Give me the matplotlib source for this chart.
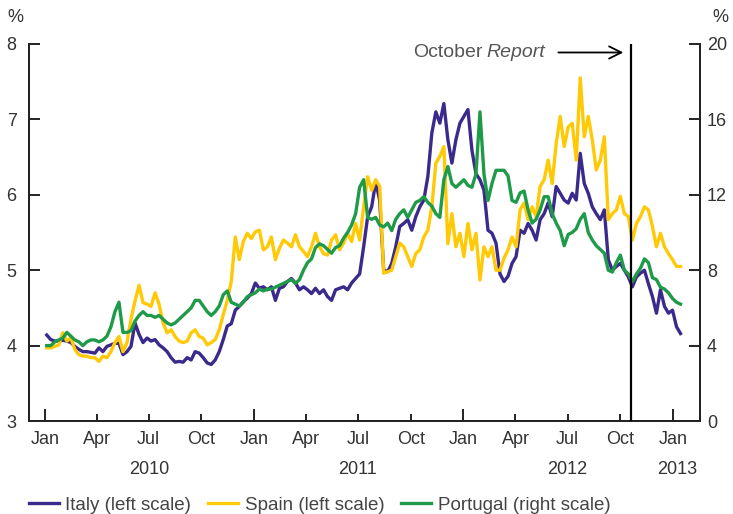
import numpy as np
import pandas as pd
import matplotlib
matplotlib.use('Agg')
from matplotlib import pyplot as plt
import matplotlib.dates as mdates
from matplotlib.transforms import blended_transform_factory

plt.rcParams['font.family'] = ['Liberation Sans', 'DejaVu Sans']
plt.rcParams['font.size'] = 13

# weekly readings, first week of Jan 2010 to mid Jan 2013
start_date = '2010-01-04'

italy = [4.14, 4.08, 4.06, 4.06, 4.07, 4.06, 4.04, 3.99, 3.95, 3.92,
         3.92, 3.91, 3.90, 3.97, 3.92, 3.99, 4.01, 4.03, 4.03, 3.88,
         3.92, 3.99, 4.30, 4.15, 4.04, 4.10, 4.06, 4.08, 4.01, 3.97,
         3.92, 3.84, 3.78, 3.79, 3.78, 3.84, 3.81, 3.92, 3.90, 3.84,
         3.77, 3.75, 3.81, 3.92, 4.08, 4.26,
         4.29, 4.47, 4.52, 4.58, 4.63, 4.69, 4.83, 4.76, 4.78, 4.74,
         4.78, 4.60, 4.76, 4.78, 4.85, 4.89, 4.83, 4.74, 4.78, 4.74,
         4.69, 4.76, 4.69, 4.74, 4.65, 4.60, 4.74, 4.76, 4.78, 4.74,
         4.83, 4.89, 4.95, 5.31, 5.71, 5.84, 6.17, 5.93,
         5.00, 4.98, 5.09, 5.31, 5.58, 5.62, 5.67, 5.53, 5.71, 5.84,
         5.93, 6.24, 6.82, 7.10, 6.95, 7.21, 6.73, 6.42, 6.73, 6.95,
         7.04, 7.13, 6.59, 6.28, 6.20, 6.06, 5.53, 5.49, 5.36,
         4.95, 4.85, 4.92, 5.09, 5.18, 5.53, 5.49, 5.62, 5.53, 5.40,
         5.67, 5.75, 5.89, 5.71, 6.11, 6.02, 5.93, 5.89, 6.02, 5.93,
         6.55, 6.15, 6.02, 5.84, 5.75, 5.67, 5.80, 5.14, 5.00, 5.05,
         5.09, 5.00, 4.91, 4.78, 4.91, 4.96, 5.00, 4.82, 4.65, 4.43,
         4.74, 4.52, 4.43, 4.47, 4.25, 4.16]

spain = [3.97, 3.97, 3.99, 4.01, 4.17, 4.06, 4.10, 3.95, 3.88, 3.86,
         3.86, 3.84, 3.84, 3.79, 3.86, 3.84, 3.92, 4.04, 4.12, 3.92,
         4.04, 4.35, 4.59, 4.80, 4.57, 4.55, 4.52, 4.70, 4.55, 4.30,
         4.17, 4.21, 4.12, 4.06, 4.04, 4.06, 4.17, 4.21, 4.12, 4.10,
         4.01, 4.04, 4.08, 4.21, 4.41, 4.60,
         4.85, 5.44, 5.14, 5.38, 5.49, 5.42, 5.51, 5.53, 5.27, 5.31,
         5.44, 5.14, 5.29, 5.40, 5.36, 5.31, 5.47, 5.31, 5.25, 5.18,
         5.31, 5.49, 5.31, 5.22, 5.20, 5.40, 5.47, 5.27, 5.36, 5.49,
         5.38, 5.62, 5.40, 5.84, 6.24, 6.06, 6.20, 6.11,
         4.96, 4.98, 5.00, 5.18, 5.36, 5.31, 5.18, 5.05, 5.22, 5.27,
         5.44, 5.53, 5.84, 6.42, 6.51, 6.64, 5.35, 5.75, 5.31, 5.49,
         5.18, 5.62, 5.27, 5.49, 4.87, 5.31, 5.18, 5.31, 5.00,
         5.00, 5.16, 5.27, 5.44, 5.31, 5.80, 5.89, 5.67, 5.84, 5.71,
         6.11, 6.20, 6.46, 6.15, 6.68, 7.04, 6.64, 6.90, 6.95, 6.46,
         7.55, 6.77, 7.04, 6.73, 6.33, 6.46, 6.77, 5.67, 5.75, 5.80,
         5.98, 5.75, 5.71, 5.40, 5.62, 5.71, 5.84, 5.80, 5.58, 5.31,
         5.49, 5.31, 5.22, 5.14, 5.05, 5.05]

# right scale
portugal = [4.0, 4.0, 4.2, 4.3, 4.4, 4.7, 4.5, 4.3, 4.2, 4.0,
            4.2, 4.3, 4.3, 4.2, 4.3, 4.5, 5.0, 5.8, 6.3, 4.7,
            4.7, 4.8, 5.3, 5.6, 5.8, 5.6, 5.6, 5.5, 5.6, 5.4,
            5.2, 5.1, 5.2, 5.4, 5.6, 5.8, 6.0, 6.4, 6.4, 6.1,
            5.8, 5.6, 5.8, 6.1, 6.7, 6.9,
            6.3, 6.2, 6.1, 6.3, 6.6, 6.7, 6.8, 7.0, 6.9, 7.0,
            7.0, 7.1, 7.2, 7.3, 7.4, 7.5, 7.3, 7.5, 8.0, 8.4,
            8.6, 9.2, 9.4, 9.3, 9.1, 8.9, 9.2, 9.3, 9.7, 10.0,
            10.4, 11.0, 12.4, 12.8, 10.8, 10.7, 10.8, 10.4,
            10.3, 10.5, 10.1, 10.7, 11.0, 11.2, 10.8, 11.2, 11.6, 11.7,
            11.9, 11.6, 11.4, 11.0, 10.8, 12.8, 13.5, 12.6, 12.4, 12.6,
            12.8, 12.5, 12.4, 13.1, 16.4, 13.1, 11.7, 12.6, 13.3,
            13.3, 13.3, 13.0, 11.7, 11.6, 12.1, 12.2, 11.2, 10.5, 10.7,
            11.2, 11.9, 11.9, 11.0, 10.5, 10.1, 9.3, 9.9, 10.0, 10.2,
            10.7, 11.0, 10.0, 9.6, 9.3, 9.1, 8.9, 8.0, 7.9, 8.4,
            8.8, 8.0, 7.8, 7.4, 7.8, 8.1, 8.6, 8.4, 7.6, 7.5,
            7.1, 7.0, 6.8, 6.5, 6.3, 6.2]

years = ['2010', '2011', '2012', '2013']
year_label_dates = ['2010-07-01', '2011-07-01', '2012-07-01', '2013-01-08']
report_date = '2012-10-19'

dates = pd.date_range(start_date, periods=len(italy), freq='7D')

col_italy = '#3b2a8c'
col_spain = '#ffc905'
col_portugal = '#1f9a48'
text_col = '#333333'

fig = plt.figure(figsize=(7.33, 5.14), dpi=100)
ax = fig.add_axes([29/733, 93/514, 671/733, 377/514])
ax2 = ax.twinx()

ax.plot(dates, italy, color=col_italy, lw=2.4, label='Italy (left scale)')
ax.plot(dates, spain, color=col_spain, lw=2.4, label='Spain (left scale)')
ax2.plot(dates, portugal, color=col_portugal, lw=2.4, label='Portugal (right scale)')

ax2.axvline(pd.Timestamp(report_date), color='black', lw=1.6, zorder=5)
ax2.annotate('', xy=(pd.Timestamp(report_date) - pd.Timedelta(days=8), 19.55),
             xytext=(pd.Timestamp('2012-06-10'), 19.55),
             arrowprops=dict(arrowstyle='->', color='black', lw=1.3,
                             mutation_scale=22))
# "October" regular, "Report" italic
ax2.text(pd.Timestamp('2012-05-22'), 19.55, 'Report', style='italic',
         ha='right', va='center', color='#555555', fontsize=14)
ax2.annotate('October', xy=(pd.Timestamp('2012-05-22'), 19.55),
             xytext=(-45, 0), textcoords='offset points',
             ha='right', va='center', color='#555555', fontsize=14)

ax.set_xlim(pd.Timestamp('2009-12-04'), pd.Timestamp('2013-02-17'))
ax.set_ylim(3, 8)
ax2.set_ylim(0, 20)
ax.set_yticks([3, 4, 5, 6, 7, 8])
ax2.set_yticks([0, 4, 8, 12, 16, 20])

for a in (ax, ax2):
    a.spines['top'].set_visible(False)
    for s in ('left', 'right', 'bottom'):
        a.spines[s].set_linewidth(1.4)
        a.spines[s].set_color('#222222')

ax.xaxis.set_major_locator(mdates.MonthLocator(bymonth=[1]))
ax.xaxis.set_major_formatter(mdates.DateFormatter('%b'))
ax.xaxis.set_minor_locator(mdates.MonthLocator(bymonth=[4, 7, 10]))
ax.xaxis.set_minor_formatter(mdates.DateFormatter('%b'))
ax.tick_params(axis='x', which='major', direction='in', length=8.5, width=1.4,
               pad=7, labelsize=13, labelcolor=text_col, color='#222222')
ax.tick_params(axis='x', which='minor', direction='in', length=5, width=1.4,
               pad=7, labelsize=13, labelcolor=text_col, color='#222222')
ax.tick_params(axis='y', direction='in', length=8, width=1.4, pad=9,
               labelsize=13, labelcolor=text_col, color='#222222')
ax2.tick_params(axis='y', direction='in', length=8, width=1.4, pad=5,
                labelsize=13, labelcolor=text_col, color='#222222')

trans = blended_transform_factory(ax.transData, ax.transAxes)
for y, d in zip(years, year_label_dates):
    ax.text(pd.Timestamp(d), -0.128, y, transform=trans, ha='center',
            va='center', fontsize=13, color=text_col)

fig.text(15/733, 1 - 18/514, '%', ha='center', va='center', fontsize=13, color=text_col)
fig.text(720/733, 1 - 18/514, '%', ha='center', va='center', fontsize=13, color=text_col)

h1, l1 = ax.get_legend_handles_labels()
h2, l2 = ax2.get_legend_handles_labels()
fig.legend(h1 + h2, l1 + l2, loc='center left', bbox_to_anchor=(12/733, 1 - 505/514),
           ncol=3, frameon=False, fontsize=13.5, handlelength=1.6,
           handletextpad=0.35, columnspacing=0.9, labelcolor='#444444')

fig.savefig('out.png', dpi=100)
